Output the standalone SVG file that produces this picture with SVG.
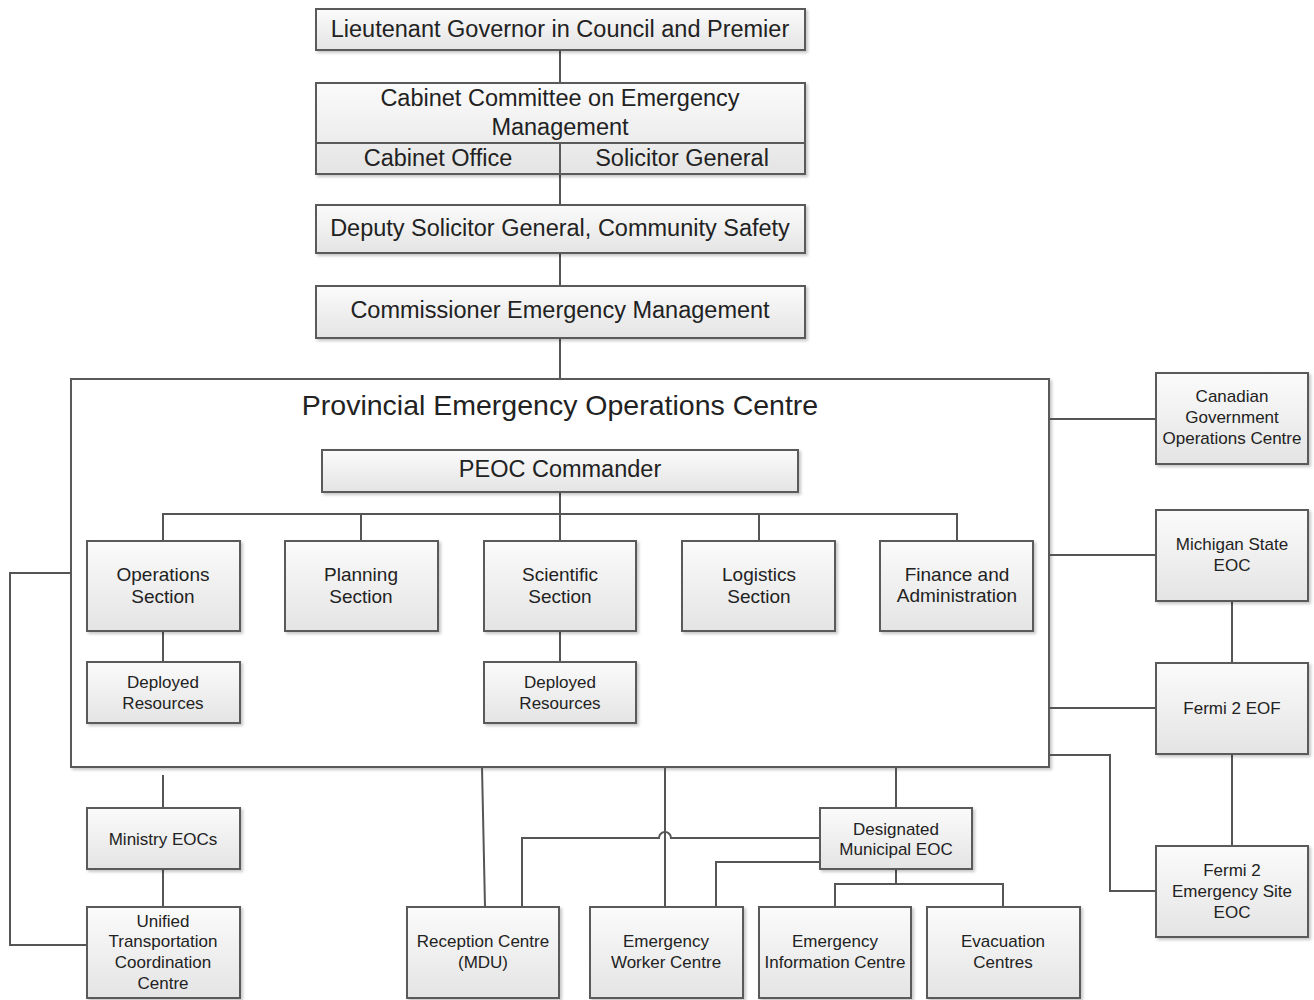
<svg xmlns="http://www.w3.org/2000/svg" width="1314" height="1000" viewBox="0 0 1314 1000">
<defs>
<linearGradient id="g" x1="0" y1="0" x2="0" y2="1">
<stop offset="0" stop-color="#fbfbfb"/>
<stop offset="1" stop-color="#e4e4e4"/>
</linearGradient>
<filter id="sh" x="-5%" y="-5%" width="115%" height="120%">
<feDropShadow dx="2" dy="2" stdDeviation="1.5" flood-color="#000" flood-opacity="0.22"/>
</filter>
</defs>
<style>
.b{fill:url(#g);stroke:#5a5a5a;stroke-width:2;filter:url(#sh)}
.c{fill:none;stroke:#555;stroke-width:2}
text{font-family:"Liberation Sans",Arial,sans-serif;fill:#222;text-anchor:middle}
.L{font-size:23.5px}
.T{font-size:28.5px}
.M{font-size:19px}
.S{font-size:17px}
</style>
<rect width="1314" height="1000" fill="#fff"/>

<g id="n-peoc"><rect x="71" y="379" width="978" height="388" fill="#fff" stroke="#5a5a5a" stroke-width="2" filter="url(#sh)"/><text class="T" x="560" y="415">Provincial Emergency Operations Centre</text></g>

<g id="connectors">
<path class="c" d="M560 50V83M560 174V205M560 253V286M560 338V379"/>
<path class="c" d="M560 492V541M163 541V514H957V541M361 514V541M759 514V541"/>
<path class="c" d="M163 631V662M560 631V662"/>
<path class="c" d="M71 573H10V945H87"/>
<path class="c" d="M163 775V808M163 869V907"/>
<path class="c" d="M1049 419H1156M1049 555H1156M1049 708H1156"/>
<path class="c" d="M1232 601V663M1232 754V846"/>
<path class="c" d="M1049 755H1110V891H1156"/>
<path class="c" d="M482 767L485 907M665 767V907M896 767V808"/>
<path class="c" d="M820 838H671A6 6 0 0 0 659 838H522V907"/>
<path class="c" d="M820 862H716V907"/>
<path class="c" d="M896 869V884M835 907V884H1003V907"/>
</g>

<g id="n-lg"><rect class="b" x="316" y="9" width="489" height="41"/><text class="L" x="560" y="37">Lieutenant Governor in Council and Premier</text></g>
<g id="n-cabinet"><rect class="b" x="316" y="83" width="489" height="91"/><path d="M316 143H805M560 143V174" stroke="#5a5a5a" stroke-width="2"/>
<text class="L" x="560" y="106">Cabinet Committee on Emergency</text><text class="L" x="560" y="135">Management</text>
<text class="L" x="438" y="166">Cabinet Office</text><text class="L" x="682" y="166">Solicitor General</text></g>
<g id="n-deputy"><rect class="b" x="316" y="205" width="489" height="48"/><text class="L" x="560" y="236">Deputy Solicitor General, Community Safety</text></g>
<g id="n-comm"><rect class="b" x="316" y="286" width="489" height="52"/><text class="L" x="560" y="318">Commissioner Emergency Management</text></g>

<g id="n-cmdr"><rect class="b" x="322" y="450" width="476" height="42"/><text class="L" x="560" y="477">PEOC Commander</text></g>

<g id="n-ops"><rect class="b" x="87" y="541" width="153" height="90"/><text class="M" x="163" y="581">Operations</text><text class="M" x="163" y="603">Section</text></g>
<g id="n-plan"><rect class="b" x="285" y="541" width="153" height="90"/><text class="M" x="361" y="581">Planning</text><text class="M" x="361" y="603">Section</text></g>
<g id="n-sci"><rect class="b" x="484" y="541" width="152" height="90"/><text class="M" x="560" y="581">Scientific</text><text class="M" x="560" y="603">Section</text></g>
<g id="n-log"><rect class="b" x="682" y="541" width="153" height="90"/><text class="M" x="759" y="581">Logistics</text><text class="M" x="759" y="603">Section</text></g>
<g id="n-fin"><rect class="b" x="880" y="541" width="153" height="90"/><text class="M" x="957" y="581">Finance and</text><text class="M" x="957" y="602">Administration</text></g>

<g id="n-dep1"><rect class="b" x="87" y="662" width="153" height="61"/><text class="S" x="163" y="688">Deployed</text><text class="S" x="163" y="709">Resources</text></g>
<g id="n-dep2"><rect class="b" x="484" y="662" width="152" height="61"/><text class="S" x="560" y="688">Deployed</text><text class="S" x="560" y="709">Resources</text></g>

<g id="n-ministry"><rect class="b" x="87" y="808" width="153" height="61"/><text class="S" x="163" y="845">Ministry EOCs</text></g>
<g id="n-utcc"><rect class="b" x="87" y="907" width="153" height="91"/><text class="S" x="163" y="927">Unified</text><text class="S" x="163" y="947">Transportation</text><text class="S" x="163" y="968">Coordination</text><text class="S" x="163" y="989">Centre</text></g>

<g id="n-dmeoc"><rect class="b" x="820" y="808" width="152" height="61"/><text class="S" x="896" y="835">Designated</text><text class="S" x="896" y="855">Municipal EOC</text></g>
<g id="n-rec"><rect class="b" x="407" y="907" width="152" height="91"/><text class="S" x="483" y="947">Reception Centre</text><text class="S" x="483" y="968">(MDU)</text></g>
<g id="n-ewc"><rect class="b" x="590" y="907" width="153" height="91"/><text class="S" x="666" y="947">Emergency</text><text class="S" x="666" y="968">Worker Centre</text></g>
<g id="n-eic"><rect class="b" x="759" y="907" width="152" height="91"/><text class="S" x="835" y="947">Emergency</text><text class="S" x="835" y="968">Information Centre</text></g>
<g id="n-evac"><rect class="b" x="927" y="907" width="153" height="91"/><text class="S" x="1003" y="947">Evacuation</text><text class="S" x="1003" y="968">Centres</text></g>

<g id="n-cgoc"><rect class="b" x="1156" y="373" width="152" height="91"/><text class="S" x="1232" y="402">Canadian</text><text class="S" x="1232" y="423">Government</text><text class="S" x="1232" y="444">Operations Centre</text></g>
<g id="n-mich"><rect class="b" x="1156" y="510" width="152" height="91"/><text class="S" x="1232" y="550">Michigan State</text><text class="S" x="1232" y="571">EOC</text></g>
<g id="n-eof"><rect class="b" x="1156" y="663" width="152" height="91"/><text class="S" x="1232" y="714">Fermi 2 EOF</text></g>
<g id="n-site"><rect class="b" x="1156" y="846" width="152" height="91"/><text class="S" x="1232" y="876">Fermi 2</text><text class="S" x="1232" y="897">Emergency Site</text><text class="S" x="1232" y="918">EOC</text></g>
</svg>
